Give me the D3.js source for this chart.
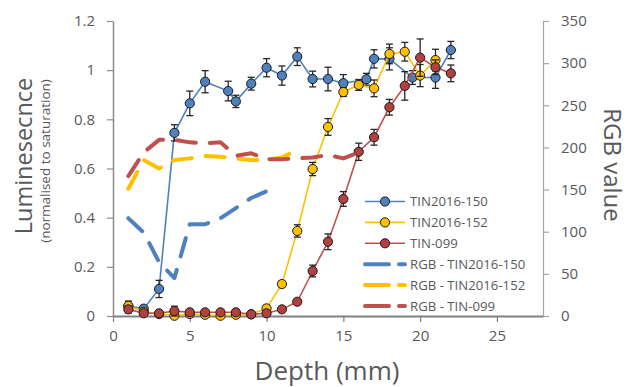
<!DOCTYPE html>
<html>
<head>
<meta charset="utf-8">
<script src="https://cdn.jsdelivr.net/npm/d3@7"></script>
<style>
  html, body { margin: 0; padding: 0; background: #fff; }
  svg { display: block; font-family: "Open Sans", "Liberation Sans", sans-serif; }
</style>
</head>
<body>
<svg id="chart" width="629" height="387"></svg>
<script>
// Luminescence profiles (primary axis) with standard-error bars
const depth150 = [1, 2, 3, 4, 5, 6, 7.5, 8, 9, 10, 11, 12, 13, 14, 15, 16.5, 17, 18, 19.5, 21, 22];
const lum150   = [0.04, 0.03, 0.11, 0.745, 0.865, 0.953, 0.915, 0.873, 0.945, 1.01, 0.978, 1.055, 0.964, 0.964, 0.947, 0.963, 1.046, 1.046, 0.97, 0.97, 1.082];
const err150   = [0.015, 0.012, 0.035, 0.033, 0.05, 0.045, 0.04, 0.025, 0.026, 0.037, 0.039, 0.036, 0.032, 0.048, 0.035, 0.024, 0.037, 0.045, 0.028, 0.044, 0.035];

const depth152 = [1, 2, 3, 4, 5, 6, 7, 8, 9, 10, 11, 12, 13, 14, 15, 16, 17, 18, 19, 20, 21];
const lum152   = [0.041, 0.017, 0.008, 0.001, 0.008, 0.005, 0.001, 0.005, 0.007, 0.031, 0.13, 0.346, 0.598, 0.769, 0.911, 0.94, 0.926, 1.066, 1.075, 0.978, 1.041];
const err152   = [0.02, 0.01, 0.008, 0.01, 0.008, 0.008, 0.008, 0.008, 0.008, 0.012, 0.012, 0.025, 0.027, 0.034, 0.018, 0.022, 0.034, 0.04, 0.038, 0.045, 0.044];

const depth099 = [1, 2, 3, 4, 5, 6, 7, 8, 9, 10, 11, 12, 13, 14, 15, 16, 17, 18, 19, 20, 21, 22];
const lum099   = [0.027, 0.011, 0.011, 0.02, 0.015, 0.015, 0.015, 0.015, 0.007, 0.011, 0.027, 0.058, 0.183, 0.302, 0.476, 0.668, 0.727, 0.849, 0.936, 1.051, 1.012, 0.987];
const err099   = [0.015, 0.008, 0.008, 0.02, 0.008, 0.008, 0.008, 0.008, 0.006, 0.006, 0.008, 0.01, 0.024, 0.032, 0.03, 0.035, 0.032, 0.032, 0.058, 0.076, 0.03, 0.034];

// RGB value profiles (secondary axis)
const rgbDepth150 = [1, 2, 3, 4, 5, 6, 7, 8, 9, 10];
const rgb150      = [116, 99, 64, 45, 109, 109, 116, 128, 140, 148];
const rgbDepth152 = [1, 2, 3, 4, 5, 6, 7, 8, 9, 10, 11, 12];
const rgb152      = [151, 185, 175, 185, 187, 190, 189, 187, 185, 185, 188, 197];
const rgbDepth099 = [1, 2, 3, 4, 5, 6, 7, 8, 9, 10, 11, 12, 13, 14, 15, 16];
const rgb099      = [166, 194, 209, 209, 206, 205, 206, 190, 193, 186, 186, 187, 188, 191, 187, 194];

// Axis ticks
const xTicks = [0, 5, 10, 15, 20, 25];
const yTicks = [0, 0.2, 0.4, 0.6, 0.8, 1, 1.2];
const y2Ticks = [0, 50, 100, 150, 200, 250, 300, 350];

const BLUE = "#4f81bd", YELLOW = "#ffc000", RED = "#c0504d";
const RED_FILL = "#b0413e";
const TEXT = "#595959";

const svg = d3.select("#chart");
const L = 113, R = 543, T = 21, B = 316;

const x = d3.scaleLinear().domain([0, 28]).range([L, R]);
const y = d3.scaleLinear().domain([0, 1.2]).range([B, T]);
const y2 = d3.scaleLinear().domain([0, 350]).range([B, T]);

// Axes
function styleAxis(g, color, width) {
  g.select(".domain").attr("stroke", color).attr("stroke-width", width);
  g.selectAll(".tick line").attr("stroke", color).attr("stroke-width", 1.2);
  g.selectAll(".tick text").attr("fill", TEXT).attr("font-size", 15)
    .attr("font-family", "'Open Sans', sans-serif");
}

const gx = svg.append("g").attr("transform", `translate(0,${B})`)
  .call(d3.axisBottom(x).tickValues(xTicks).tickFormat(d3.format("d"))
    .tickSizeInner(6).tickSizeOuter(0).tickPadding(8));
styleAxis(gx, "#808080", 2);

const gy = svg.append("g").attr("transform", `translate(${L},0)`)
  .call(d3.axisLeft(y).tickValues(yTicks).tickFormat(d => d3.format("")(+d.toFixed(1)))
    .tickSizeInner(6).tickSizeOuter(0).tickPadding(12));
styleAxis(gy, "#8c8c8c", 1.5);

const gy2 = svg.append("g").attr("transform", `translate(${R},0)`)
  .call(d3.axisRight(y2).tickValues(y2Ticks).tickFormat(d3.format("d"))
    .tickSizeInner(6).tickSizeOuter(6).tickPadding(12));
styleAxis(gy2, "#a6a6a6", 1.2);

// Axis titles
svg.append("text")
  .attr("transform", `translate(32,156) rotate(-90)`)
  .attr("text-anchor", "middle").attr("fill", TEXT)
  .attr("font-size", 23.5).text("Luminesecnce");
svg.append("text")
  .attr("transform", `translate(50,161) rotate(-90)`)
  .attr("text-anchor", "middle").attr("fill", TEXT)
  .attr("font-size", 13.5).text("(normalised to saturation)");
svg.append("text")
  .attr("transform", `translate(604,165) rotate(90)`)
  .attr("text-anchor", "middle").attr("fill", TEXT)
  .attr("font-size", 24).text("RGB value");
svg.append("text")
  .attr("x", 327).attr("y", 380)
  .attr("text-anchor", "middle").attr("fill", TEXT)
  .attr("font-size", 26).text("Depth (mm)");

// Luminescence series
const lumSeries = [
  { depth: depth150, value: lum150, err: err150, color: BLUE, fill: BLUE },
  { depth: depth152, value: lum152, err: err152, color: YELLOW, fill: YELLOW },
  { depth: depth099, value: lum099, err: err099, color: RED, fill: RED_FILL }
];

const line = d3.line().x(d => x(d[0])).y(d => y(d[1]));
const capW = 3.5;

lumSeries.forEach(s => {
  const pts = s.depth.map((d, i) => [d, s.value[i], s.err[i]]);
  const g = svg.append("g");
  g.append("path").datum(pts).attr("d", line)
    .attr("fill", "none").attr("stroke", s.color).attr("stroke-width", 1.6);
  const eb = g.selectAll(".eb").data(pts).enter().append("g")
    .attr("stroke", "#262626").attr("stroke-width", 1.3);
  eb.append("line").attr("x1", d => x(d[0])).attr("x2", d => x(d[0]))
    .attr("y1", d => y(d[1] - d[2])).attr("y2", d => y(d[1] + d[2]));
  eb.append("line").attr("x1", d => x(d[0]) - capW).attr("x2", d => x(d[0]) + capW)
    .attr("y1", d => y(d[1] + d[2])).attr("y2", d => y(d[1] + d[2]));
  eb.append("line").attr("x1", d => x(d[0]) - capW).attr("x2", d => x(d[0]) + capW)
    .attr("y1", d => y(d[1] - d[2])).attr("y2", d => y(d[1] - d[2]));
  g.selectAll("circle").data(pts).enter().append("circle")
    .attr("cx", d => x(d[0])).attr("cy", d => y(d[1])).attr("r", 4.6)
    .attr("fill", s.fill).attr("stroke", "#1a1a1a").attr("stroke-width", 1);
});

// RGB series (dashed, secondary axis)
const rgbSeries = [
  { depth: rgbDepth150, value: rgb150, color: BLUE },
  { depth: rgbDepth152, value: rgb152, color: YELLOW },
  { depth: rgbDepth099, value: rgb099, color: RED }
];
const line2 = d3.line().x(d => x(d[0])).y(d => y2(d[1]));
rgbSeries.forEach(s => {
  const pts = s.depth.map((d, i) => [d, s.value[i]]);
  svg.append("path").datum(pts).attr("d", line2)
    .attr("fill", "none").attr("stroke", s.color).attr("stroke-width", 4)
    .attr("stroke-dasharray", "19,14").attr("stroke-linecap", "round")
    .attr("stroke-linejoin", "round");
});

// Legend
const legendItems = [
  { label: "TIN2016-150", color: BLUE, fill: BLUE, dashed: false },
  { label: "TIN2016-152", color: YELLOW, fill: YELLOW, dashed: false },
  { label: "TIN-099", color: RED, fill: RED_FILL, dashed: false },
  { label: "RGB - TIN2016-150", color: BLUE, dashed: true },
  { label: "RGB - TIN2016-152", color: YELLOW, dashed: true },
  { label: "RGB - TIN-099", color: RED, dashed: true }
];
const lg = svg.append("g");
legendItems.forEach((it, i) => {
  const ly = 201.5 + i * 20.9;
  const g = lg.append("g");
  if (it.dashed) {
    g.append("line").attr("x1", 365).attr("x2", 405).attr("y1", ly).attr("y2", ly)
      .attr("stroke", it.color).attr("stroke-width", 4)
      .attr("stroke-dasharray", "24,10").attr("stroke-linecap", "round");
  } else {
    g.append("line").attr("x1", 365).attr("x2", 405).attr("y1", ly).attr("y2", ly)
      .attr("stroke", it.color).attr("stroke-width", 1.6);
    g.append("circle").attr("cx", 385).attr("cy", ly).attr("r", 4.6)
      .attr("fill", it.fill).attr("stroke", "#1a1a1a").attr("stroke-width", 1);
  }
  g.append("text").attr("x", 410).attr("y", ly).attr("dy", "0.35em")
    .attr("fill", TEXT).attr("font-size", 13.2).text(it.label);
});
</script>
</body>
</html>
